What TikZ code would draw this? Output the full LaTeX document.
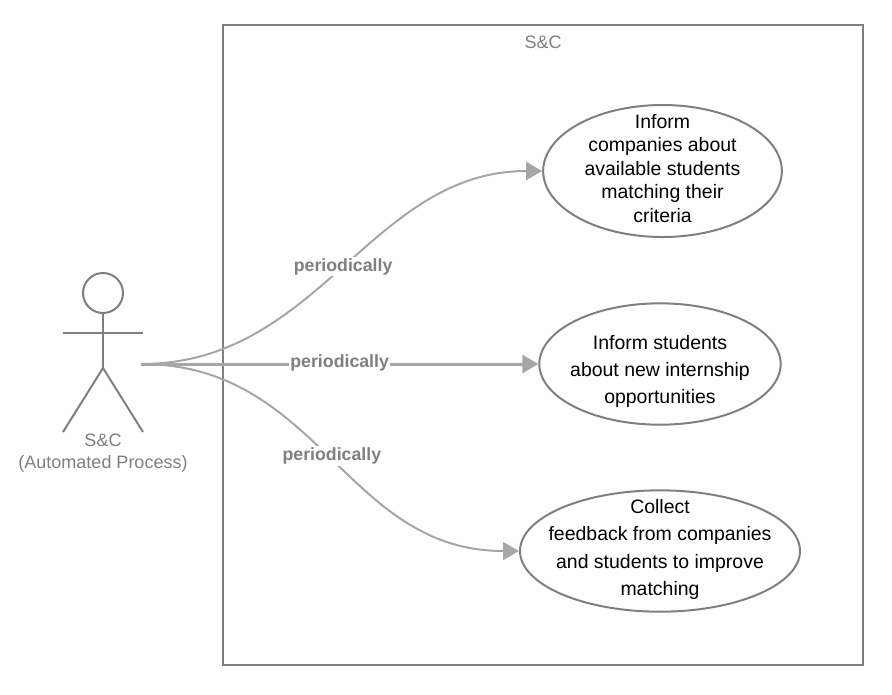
\documentclass[tikz,border=0pt]{standalone}
\usepackage{fontspec}
\setmainfont{Liberation Sans}
\usetikzlibrary{arrows.meta,shapes.geometric}
\definecolor{ink}{HTML}{7F7F7F}
\definecolor{flow}{HTML}{A6A6A6}
\tikzset{
  usecase/.style={ellipse,draw=ink,line width=1.5pt,inner sep=0pt},
  casetext/.style={inner sep=0pt,align=center},
  stick/.style={draw=ink,line width=1.5pt},
  periodic/.style={draw=flow,line width=1.5pt,-{Triangle[length=12pt,width=13.5pt]}},
  greytext/.style={text=ink,font=\fontsize{13.5}{16.5}\selectfont,inner sep=0pt,align=center},
  edgelabel/.style={fill=white,text=ink,inner sep=1pt,font=\fontsize{13.3}{15}\selectfont\bfseries}
}
\begin{document}
\begin{tikzpicture}[x=.75pt,y=-.75pt]
  \useasboundingbox (0,0) rectangle (892,694);

  % system boundary
  \node[draw=ink,line width=1.5pt,minimum width=480pt,minimum height=480pt,inner sep=0pt] (system) at (543,345) {};
  \node[greytext] (systemname) at (543,42.3) {S\&C};

  % actor
  \node[circle,stick,fill=white,minimum size=30pt,inner sep=0pt] (head) at (103,293) {};
  \coordinate (hip) at (103,368);
  \coordinate (armleft) at (63,333);
  \coordinate (armright) at (143,333);
  \coordinate (footleft) at (63,432);
  \coordinate (footright) at (143,432);
  \coordinate (actor) at (141,364);
  \path[stick] (head) -- (hip);
  \path[stick] (armleft) -- (armright);
  \path[stick] (footleft) -- (hip) -- (footright);
  \node[greytext] (actorname) at (103,453) {S\&C\\(Automated Process)};

  % use cases
  \begin{scope}[every node/.style={usecase}]
    \node[minimum width=179pt,minimum height=99pt] (inform)  at (662.5,171) {};
    \node[minimum width=181pt,minimum height=91pt] (notify)  at (660,364) {};
    \node[minimum width=210pt,minimum height=91pt] (collect) at (660,551) {};
  \end{scope}
  \begin{scope}[every node/.style={casetext}]
    \node[font=\fontsize{14.6}{17.6}\selectfont] (informtext)  at (662.5,168.5) {Inform\\companies about\\available students\\matching their\\criteria};
    \node[font=\fontsize{14.6}{20}\selectfont] (notifytext)  at (660,371.5) {Inform students\\about new internship\\opportunities};
    \node[font=\fontsize{14.6}{20.5}\selectfont] (collecttext) at (660,549.5) {Collect\\feedback from companies\\and students to improve\\matching};
  \end{scope}

  % connectors
  \path[periodic] (actor) .. controls (320,364) and (370,171) .. node[edgelabel,xshift=-.75pt,yshift=.75pt] (labelone) {periodically} (inform.west);
  \path[periodic,line width=2.25pt] (actor) -- node[edgelabel,yshift=.75pt] (labeltwo) {periodically} (notify.west);
  \path[periodic] (actor) .. controls (320,364) and (345,551) .. node[edgelabel,yshift=1.2pt] (labelthree) {periodically} (collect.west);
\end{tikzpicture}
\end{document}
